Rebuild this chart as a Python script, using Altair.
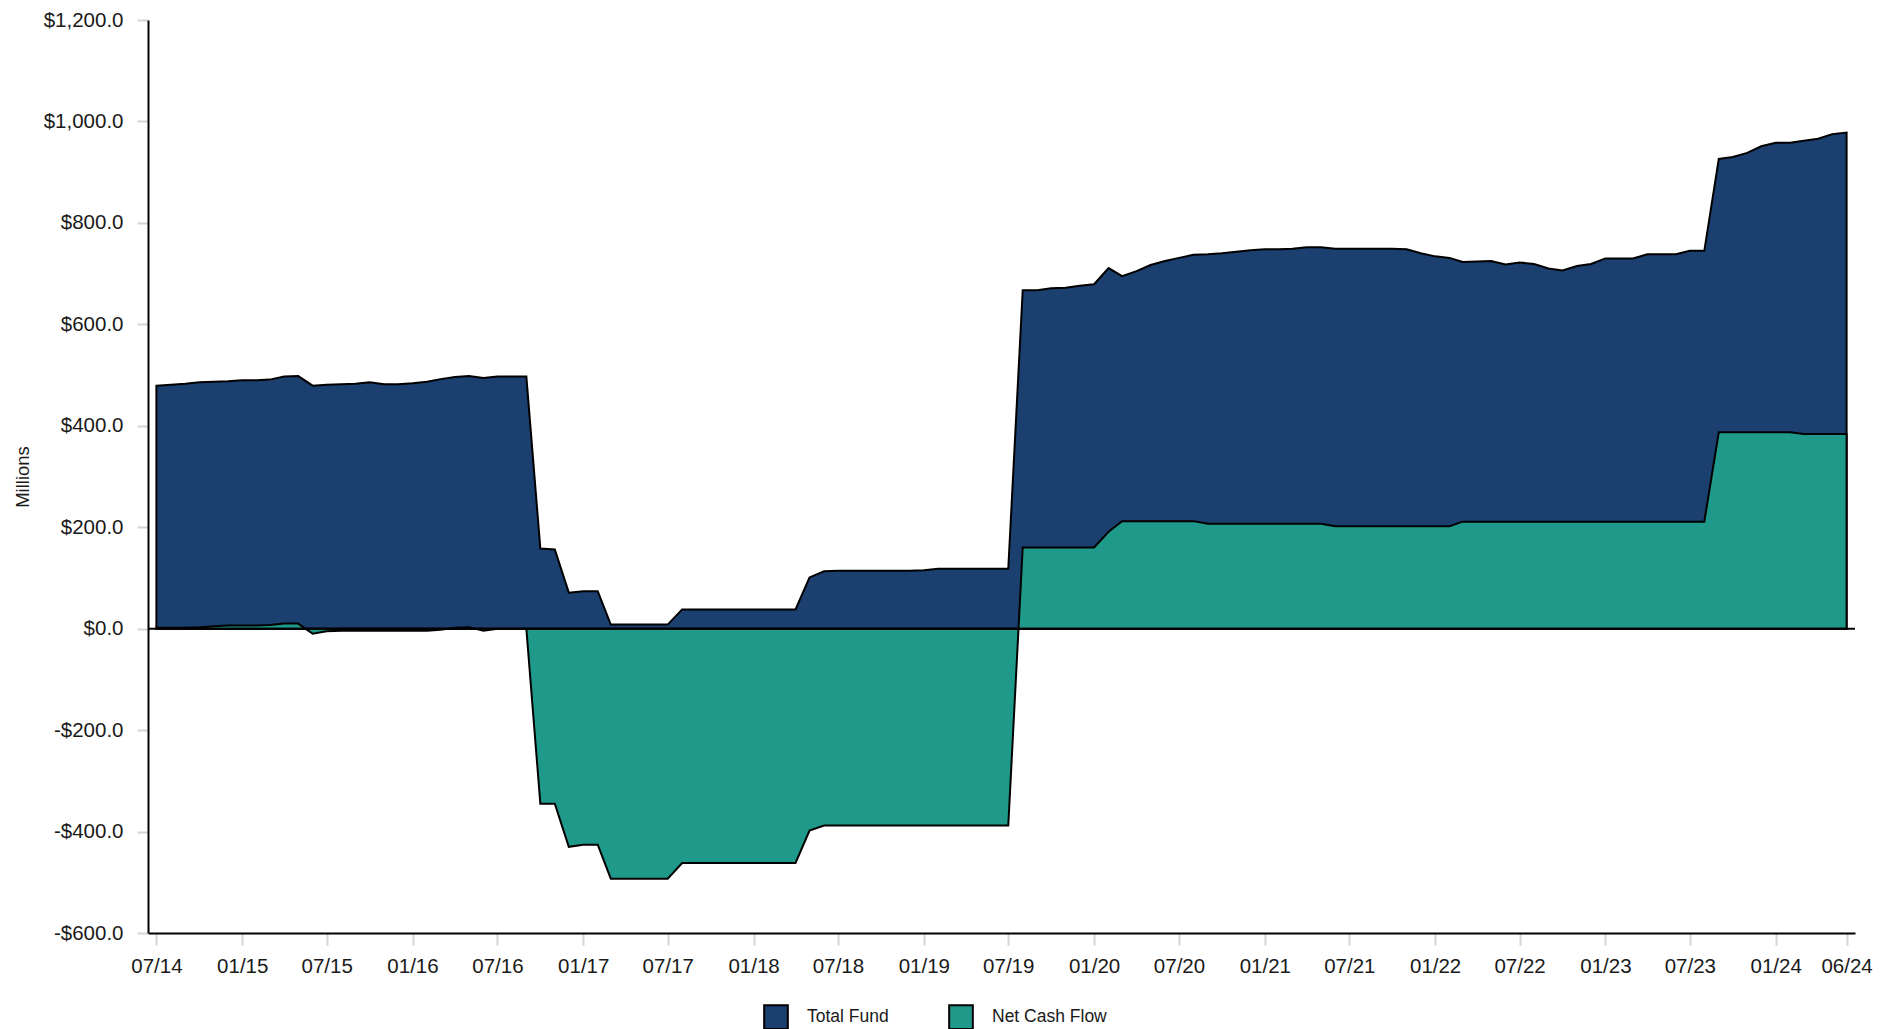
import altair as alt
import pandas as pd

# Month-start dates 07/2014 .. 06/2024 (120 months)
months = pd.date_range("2014-07-01", periods=120, freq="MS").strftime("%Y-%m-%d").tolist()

total_fund = [
    479, 481, 483, 486, 487, 488, 490, 490, 491, 497, 498, 479,
    481, 482, 483, 486, 482, 482, 484, 487, 492, 496, 498, 494,
    497, 497, 497, 158, 156, 71, 74, 74, 8, 8, 8, 8,
    8, 38, 38, 38, 38, 38, 38, 38, 38, 38, 101, 113,
    114, 114, 114, 114, 114, 114, 115, 118, 118, 118, 118, 118,
    118, 667, 667, 671, 672, 676, 679, 711, 695, 705, 717, 725,
    731, 737, 738, 740, 743, 746, 748, 748, 749, 752, 752, 749,
    749, 749, 749, 749, 748, 740, 734, 731, 723, 724, 725, 718,
    722, 719, 710, 706, 715, 719, 730, 730, 730, 738, 738, 738,
    745, 745, 926, 930, 938, 951, 958, 958, 962, 966, 975, 978,
]

net_cash_flow = [
    2, 2, 2, 3, 5, 6, 6, 6, 7, 10, 10, -10,
    -5, -4, -4, -4, -4, -4, -4, -4, -2, 2, 3, -4,
    0, 0, 0, -345, -345, -430, -426, -426, -493, -493, -493, -493,
    -493, -462, -462, -462, -462, -462, -462, -462, -462, -462, -398, -388,
    -388, -388, -388, -388, -388, -388, -388, -388, -388, -388, -388, -388,
    -388, 160, 160, 160, 160, 160, 160, 191, 212, 212, 212, 212,
    212, 212, 207, 207, 207, 207, 207, 207, 207, 207, 207, 202,
    202, 202, 202, 202, 202, 202, 202, 202, 211, 211, 211, 211,
    211, 211, 211, 211, 211, 211, 211, 211, 211, 211, 211, 211,
    211, 211, 387, 387, 387, 387, 387, 387, 384, 384, 384, 384,
]

series_names = ["Total Fund", "Net Cash Flow"]
series_colors = ["#1B3F6F", "#1F9A8A"]

x_tick_dates = [(2014, 7), (2015, 1), (2015, 7), (2016, 1), (2016, 7), (2017, 1),
                (2017, 7), (2018, 1), (2018, 7), (2019, 1), (2019, 7), (2020, 1),
                (2020, 7), (2021, 1), (2021, 7), (2022, 1), (2022, 7), (2023, 1),
                (2023, 7), (2024, 1), (2024, 6)]
y_ticks = [-600, -400, -200, 0, 200, 400, 600, 800, 1000, 1200]

df = pd.DataFrame({
    "date": months * 2,
    "value": total_fund + net_cash_flow,
    "series": [series_names[0]] * len(months) + [series_names[1]] * len(months),
})
zero_df = pd.DataFrame({"v": [0]})

FONT = "Liberation Sans, Arial, sans-serif"
TXT = "#1a1a1a"

x_enc = alt.X(
    "date:T",
    scale=alt.Scale(
        type="utc",
        domain=[alt.DateTime(year=2014, month=6, date=13, utc=True),
                alt.DateTime(year=2024, month=6, date=19, utc=True)],
        nice=False,
    ),
    axis=alt.Axis(
        values=[alt.DateTime(year=y, month=m, date=1, utc=True) for y, m in x_tick_dates],
        labelExpr="utcFormat(datum.value, '%m/%y')",
        title=None,
        grid=False,
        domainColor="black",
        domainWidth=2,
        tickColor="#d4d4d4",
        tickWidth=2,
        tickSize=12,
        labelPadding=11,
        labelFont=FONT,
        labelFontSize=20.5,
        labelColor=TXT,
        labelOverlap=False,
    ),
)

y_enc = alt.Y(
    "value:Q",
    stack=None,
    scale=alt.Scale(domain=[-600, 1200], nice=False),
    axis=alt.Axis(
        values=y_ticks,
        labelExpr="(datum.value < 0 ? '-' : '') + '$' + format(abs(datum.value), ',.1f')",
        title="Millions",
        titleFont=FONT,
        titleFontSize=18.5,
        titleFontWeight="normal",
        titleColor=TXT,
        titleX=-116,
        grid=False,
        domainColor="black",
        domainWidth=2,
        tickColor="#d4d4d4",
        tickWidth=2,
        tickSize=11,
        labelPadding=14,
        labelFont=FONT,
        labelFontSize=20.5,
        labelColor=TXT,
    ),
)

fill_enc = alt.Fill(
    "series:N",
    scale=alt.Scale(domain=series_names, range=series_colors),
    legend=alt.Legend(
        title=None,
        orient="none",
        legendX=615,
        legendY=984,
        direction="horizontal",
        symbolType="square",
        symbolSize=560,
        symbolStrokeColor="black",
        symbolStrokeWidth=2,
        symbolOpacity=1,
        labelFont=FONT,
        labelFontSize=17.5,
        labelColor=TXT,
        labelOffset=18,
        columnPadding=56,
        padding=0,
    ),
)

base = alt.Chart(df)

tf_area = base.transform_filter(alt.datum.series == series_names[0]).mark_area(
    stroke="black", strokeWidth=2, fillOpacity=1, interpolate="linear"
).encode(x=x_enc, y=y_enc, fill=fill_enc)

ncf_area = base.transform_filter(alt.datum.series == series_names[1]).mark_area(
    stroke="black", strokeWidth=2, fillOpacity=1, interpolate="linear"
).encode(x=x_enc, y=y_enc, fill=fill_enc)

zero_rule = alt.Chart(zero_df).mark_rule(color="black", strokeWidth=2).encode(y=alt.Y("v:Q"))

chart = alt.layer(tf_area, ncf_area, zero_rule).properties(
    width=1707,
    height=913,
    background="white",
    autosize=alt.AutoSizeParams(type="none"),
    padding={"left": 140, "top": 12, "right": 20, "bottom": 96},
).configure_view(stroke=None)

chart.save("out.html", embed_options={"renderer": "svg", "actions": False})
